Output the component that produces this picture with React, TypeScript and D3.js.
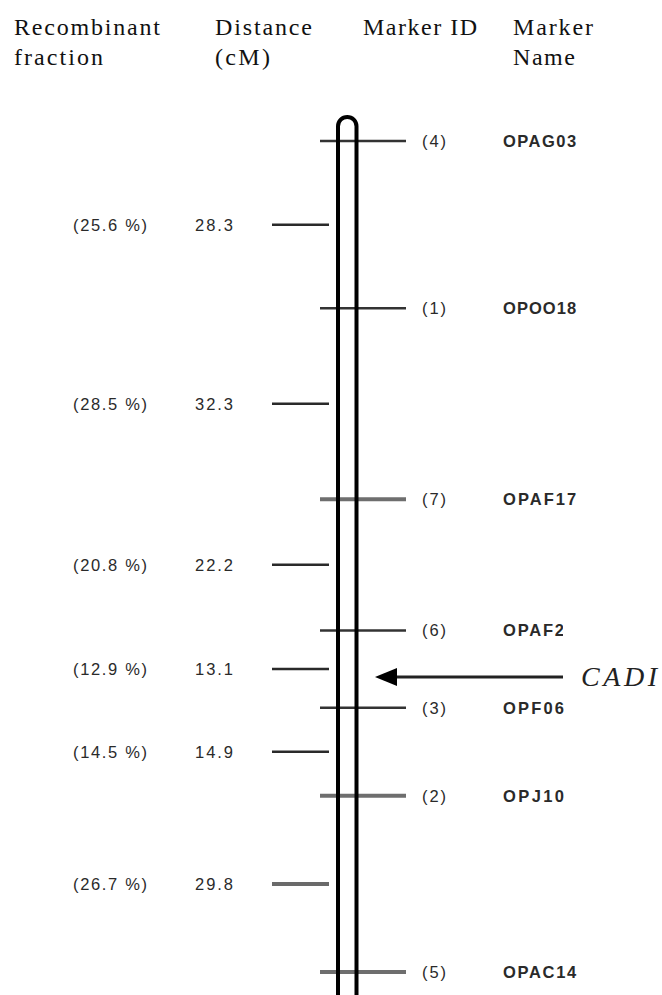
import React from "react";
import * as d3 from "d3";

const markerIds = ["(4)", "(1)", "(7)", "(6)", "(3)", "(2)", "(5)"];
const markerNames = ["OPAG03", "OPOO18", "OPAF17", "OPAF2", "OPF06", "OPJ10", "OPAC14"];
const markerHeavy = [false, false, true, false, false, true, true];
const distances = [28.3, 32.3, 22.2, 13.1, 14.9, 29.8];
const recombination = [25.6, 28.5, 20.8, 12.9, 14.5, 26.7];
const intervalHeavy = [false, false, false, false, false, true];
const geneName = "CADI";
const genePosition = 90.7;

const W = 662;
const H = 995;

export default function App() {
  const cumulative = [0];
  distances.forEach((d) => cumulative.push(+(cumulative[cumulative.length - 1] + d).toFixed(1)));
  const total = cumulative[cumulative.length - 1];
  const y = d3.scaleLinear().domain([0, total]).range([141, 972]);
  const mids = distances.map((d, i) => cumulative[i] + d / 2);

  const leftX = 338;
  const rightX = 356.5;
  const r = (rightX - leftX) / 2;
  const topY = 117 + r;
  const chromPath = d3.path();
  chromPath.moveTo(leftX, H + 2);
  chromPath.lineTo(leftX, topY);
  chromPath.arc((leftX + rightX) / 2, topY, r, Math.PI, 0);
  chromPath.lineTo(rightX, H + 2);

  const headerStyle = { fontFamily: "Liberation Serif, serif", fontSize: 24, fill: "#111" } as const;
  const labelStyle = { fontFamily: "Liberation Sans, Arial, sans-serif", fontSize: 16.5, fill: "#2a2a2a" } as const;

  const gy = y(genePosition);

  return (
    <svg width={W} height={H} style={{ position: "absolute", left: 0, top: 0, background: "#fff" }}>
      {/* headers */}
      <text x={14} y={35} {...headerStyle} textLength={146} lengthAdjust="spacing">Recombinant</text>
      <text x={14} y={65} {...headerStyle} textLength={89} lengthAdjust="spacing">fraction</text>
      <text x={215} y={35} {...headerStyle} textLength={97} lengthAdjust="spacing">Distance</text>
      <text x={215} y={65} {...headerStyle} textLength={55} lengthAdjust="spacing">(cM)</text>
      <text x={363} y={35} {...headerStyle} textLength={114} lengthAdjust="spacing">Marker ID</text>
      <text x={513} y={35} {...headerStyle} textLength={80} lengthAdjust="spacing">Marker</text>
      <text x={513} y={65} {...headerStyle} textLength={62} lengthAdjust="spacing">Name</text>

      {/* interval ticks and labels */}
      {mids.map((m, i) => (
        <g key={"iv" + i}>
          <line x1={272} x2={329} y1={y(m)} y2={y(m)}
            stroke={intervalHeavy[i] ? "#6a6a6a" : "#2a2a2a"} strokeWidth={intervalHeavy[i] ? 4 : 2.5} />
          <text x={73} y={y(m)} dy="0.36em" {...labelStyle} textLength={74} lengthAdjust="spacing">
            {`(${recombination[i].toFixed(1)} %)`}
          </text>
          <text x={195} y={y(m)} dy="0.36em" {...labelStyle} textLength={38} lengthAdjust="spacing">
            {distances[i].toFixed(1)}
          </text>
        </g>
      ))}

      {/* marker lines */}
      {cumulative.map((c, i) => (
        <line key={"mk" + i} x1={320} x2={406} y1={y(c)} y2={y(c)}
          stroke={markerHeavy[i] ? "#6e6e6e" : "#333"} strokeWidth={markerHeavy[i] ? 4 : 2.5} />
      ))}

      {/* chromosome */}
      <path d={chromPath.toString()} fill="none" stroke="#000" strokeWidth={4} />

      {/* marker labels */}
      {cumulative.map((c, i) => (
        <g key={"ml" + i}>
          <text x={422} y={y(c)} dy="0.36em" {...labelStyle} textLength={24} lengthAdjust="spacing">
            {markerIds[i]}
          </text>
          <text x={503} y={y(c)} dy="0.36em" {...labelStyle} fontWeight={600}
            textLength={markerNames[i].length * 12.2} lengthAdjust="spacing">
            {markerNames[i]}
          </text>
        </g>
      ))}

      {/* gene arrow */}
      <rect x={563} y={615} width={99} height={80} fill="#fff" />
      <line x1={395} x2={563} y1={gy} y2={gy} stroke="#222" strokeWidth={3} />
      <path d={`M375,${gy} L397,${gy - 9} L397,${gy + 9} Z`} fill="#000" />
      <text x={581} y={gy} dy="0.33em" fontFamily="Liberation Serif, serif" fontStyle="italic"
        fontSize={28} fill="#222" textLength={76} lengthAdjust="spacing">{geneName}</text>
    </svg>
  );
}
